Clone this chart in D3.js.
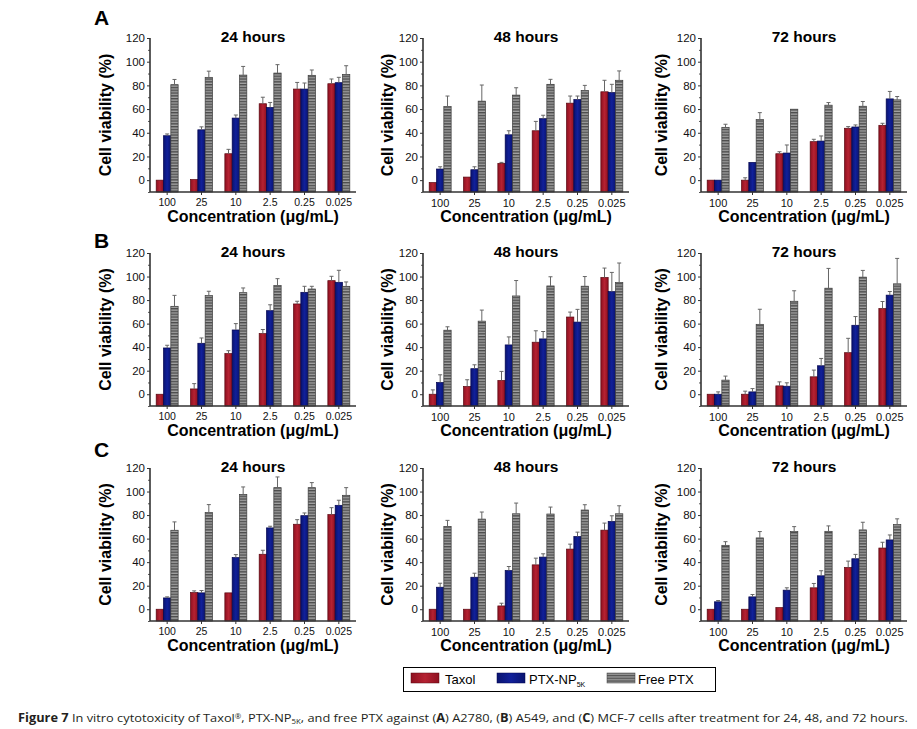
<!DOCTYPE html>
<html><head><meta charset="utf-8">
<script src="https://cdn.jsdelivr.net/npm/d3@7"></script>
<style>
html,body{margin:0;padding:0;background:#fff;}
svg{display:block;font-family:"Liberation Sans",Arial,sans-serif;}
</style></head>
<body>
<svg id="chart" width="917" height="729"></svg>
<script>
// ---------- data ----------
const categories = ["100","25","10","2.5","0.25","0.025"];
const seriesNames = ["Taxol","PTX-NP","Free PTX"];
const hours = ["24 hours","48 hours","72 hours"];
const rowLetters = ["A","B","C"];
const yTicks = [0,20,40,60,80,100,120];

// Row A (A2780)
const A24_taxol = [0, 0.5, 22.3, 64.5, 76.9, 81.4];
const A24_taxol_sd = [0, 0, 3.7, 5.5, 5.6, 4.0];
const A24_ptx = [37.5, 42.5, 52.4, 61.4, 76.9, 82.3];
const A24_ptx_sd = [1.5, 2.5, 2.6, 4.2, 5.1, 4.5];
const A24_free = [80.6, 86.8, 88.7, 90.4, 88.5, 89.3];
const A24_free_sd = [4.4, 5.2, 7.3, 7.1, 4.5, 7.3];

const A48_taxol = [-2, 2.6, 14.2, 41.7, 65, 74.6];
const A48_taxol_sd = [0, 0, 0.8, 7.9, 6, 9.7];
const A48_ptx = [9.4, 8.8, 38.3, 51.9, 68, 74];
const A48_ptx_sd = [1.9, 2.5, 3.4, 2.9, 3, 6.9];
const A48_free = [62.1, 66.7, 71.8, 80.9, 75.7, 84.3];
const A48_free_sd = [8.9, 13.6, 6.2, 4.2, 4.3, 7.9];

const A72_taxol = [0, 0, 22.3, 32.5, 43.8, 46.3];
const A72_taxol_sd = [0, 2, 1.7, 2, 1.4, 1.7];
const A72_ptx = [0, 15, 22.9, 33, 44.9, 68.6];
const A72_ptx_sd = [0, 0, 6.8, 4.3, 1.7, 6.3];
const A72_free = [44.6, 51.1, 59.9, 63.3, 62.4, 67.8];
const A72_free_sd = [2.6, 5.9, 0.3, 2.2, 4, 2.8];

// Row B (A549)
const B24_taxol = [0, 4.5, 34.5, 51.5, 76.7, 96.5];
const B24_taxol_sd = [0, 4.5, 2.5, 3.5, 2.3, 3.7];
const B24_ptx = [39.3, 43.3, 54.6, 71, 86.6, 95.1];
const B24_ptx_sd = [2.3, 4.5, 5.4, 5, 5.1, 10.2];
const B24_free = [74.7, 83.8, 86.3, 92.3, 89.4, 91.7];
const B24_free_sd = [9.3, 3.7, 4, 5.9, 2.3, 3.7];

const B48_taxol = [0, 6.6, 11.7, 44.2, 65.6, 99.2];
const B48_taxol_sd = [3.7, 5.7, 7.7, 9.7, 4.2, 8];
const B48_ptx = [10, 21.7, 41.9, 47, 61.3, 87.2];
const B48_ptx_sd = [6.5, 3.3, 6.8, 6.3, 10.8, 16.3];
const B48_free = [54.4, 62.1, 83.5, 92, 91.8, 94.9];
const B48_free_sd = [2.9, 9.4, 13.1, 7.8, 8.2, 16.6];

const B72_taxol = [0, 0, 7.1, 14.8, 35.3, 72.8];
const B72_taxol_sd = [0, 2.6, 3.4, 5.7, 12.2, 6];
const B72_ptx = [0, 2, 6.8, 24.2, 58.6, 84.2];
const B72_ptx_sd = [2, 2.8, 2.9, 6.2, 7.4, 3.1];
const B72_free = [12, 59.4, 79, 90.1, 99.5, 93.8];
const B72_free_sd = [3.4, 12.8, 8.9, 16.8, 5.7, 21.6];

// Row C (MCF-7)
const C24_taxol = [0, 14.2, 13.9, 46.7, 72.2, 80.4];
const C24_taxol_sd = [0, 1.4, 0, 3.4, 3.9, 5.9];
const C24_ptx = [9.6, 13.9, 43.9, 69.1, 79.5, 88.3];
const C24_ptx_sd = [0.9, 2, 2.5, 1.4, 2.3, 4.3];
const C24_free = [67.1, 82.1, 97.6, 103.3, 103.3, 96.8];
const C24_free_sd = [7.1, 6.8, 6.3, 9.1, 4.3, 6.5];

const C48_taxol = [0, 0, 2.8, 37.7, 51.1, 67.2];
const C48_taxol_sd = [0, 0, 2.3, 5.7, 4.2, 6];
const C48_ptx = [18.7, 27.2, 32.9, 44.3, 61.8, 74.6];
const C48_ptx_sd = [3.4, 3.4, 3.4, 2.8, 3.7, 4.8];
const C48_free = [70.4, 76.6, 81.1, 80.9, 84.3, 81.1];
const C48_free_sd = [5.1, 6, 9.1, 5.9, 4.5, 6.8];

const C72_taxol = [0, 0, 1.4, 18.2, 35.5, 52];
const C72_taxol_sd = [0, 0, 0, 3.7, 5.4, 4.9];
const C72_ptx = [6.3, 10.5, 16.2, 28.4, 42.9, 58.9];
const C72_ptx_sd = [1.1, 2, 2, 4.3, 3.7, 4.2];
const C72_free = [54.3, 60.6, 66, 66.2, 67.4, 71.9];
const C72_free_sd = [3.1, 5.4, 4.2, 4.6, 6.5, 4.9];

const panelData = [
  [[A24_taxol,A24_ptx,A24_free],[A24_taxol_sd,A24_ptx_sd,A24_free_sd]],
  [[A48_taxol,A48_ptx,A48_free],[A48_taxol_sd,A48_ptx_sd,A48_free_sd]],
  [[A72_taxol,A72_ptx,A72_free],[A72_taxol_sd,A72_ptx_sd,A72_free_sd]],
  [[B24_taxol,B24_ptx,B24_free],[B24_taxol_sd,B24_ptx_sd,B24_free_sd]],
  [[B48_taxol,B48_ptx,B48_free],[B48_taxol_sd,B48_ptx_sd,B48_free_sd]],
  [[B72_taxol,B72_ptx,B72_free],[B72_taxol_sd,B72_ptx_sd,B72_free_sd]],
  [[C24_taxol,C24_ptx,C24_free],[C24_taxol_sd,C24_ptx_sd,C24_free_sd]],
  [[C48_taxol,C48_ptx,C48_free],[C48_taxol_sd,C48_ptx_sd,C48_free_sd]],
  [[C72_taxol,C72_ptx,C72_free],[C72_taxol_sd,C72_ptx_sd,C72_free_sd]]
];

// ---------- layout ----------
const colX = [150, 423, 701];
const panelW = 206;
const rowY = [[192, 38], [406, 253], [621, 468]];   // [y(-10), y(120)]
const yLabelX = [105.5, 387.5, 661];
const letterY = [25, 248, 457];

const svg = d3.select("#chart");
const defs = svg.append("defs");

const gR = defs.append("linearGradient").attr("id","gRed").attr("x1","0").attr("x2","1");
gR.append("stop").attr("offset","0").attr("stop-color","#8e1020");
gR.append("stop").attr("offset","0.5").attr("stop-color","#b52232");
gR.append("stop").attr("offset","1").attr("stop-color","#8e1020");
const gB = defs.append("linearGradient").attr("id","gBlue").attr("x1","0").attr("x2","1");
gB.append("stop").attr("offset","0").attr("stop-color","#0a1470");
gB.append("stop").attr("offset","0.5").attr("stop-color","#11209a");
gB.append("stop").attr("offset","1").attr("stop-color","#0a1470");
const pat = defs.append("pattern").attr("id","pGray").attr("patternUnits","userSpaceOnUse")
  .attr("width",4).attr("height",2.8);
pat.append("rect").attr("width",4).attr("height",2.8).attr("fill","#a2a2a2");
pat.append("rect").attr("width",4).attr("height",1.4).attr("fill","#4c4c4c");

const fills = ["url(#gRed)","url(#gBlue)","url(#pGray)"];
const strokes = ["#5a0810","#020450","#3c3c3c"];

panelData.forEach((pd, i) => {
  const r = Math.floor(i/3), c = i%3;
  const x0 = colX[c];
  const x = d3.scaleBand().domain(categories).range([x0, x0+panelW]).paddingInner(0.36).paddingOuter(0.18);
  const xs = d3.scaleBand().domain(d3.range(3)).range([0, x.bandwidth()]);
  const y = d3.scaleLinear().domain([-10,120]).range(rowY[r]);
  const g = svg.append("g");

  pd[0].forEach((vals, s) => {
    g.selectAll(null).data(vals).enter().append("rect")
      .attr("x",(d,k)=>x(categories[k])+xs(s))
      .attr("width",xs.bandwidth())
      .attr("y",d=>y(d))
      .attr("height",d=>y(-10)-y(d))
      .attr("fill",fills[s])
      .attr("stroke",strokes[s]).attr("stroke-width",0.7);
  });
  pd[0].forEach((vals, s) => {
    const sd = pd[1][s];
    vals.forEach((v,k) => {
      if (sd[k] <= 0.4) return;
      const cx = x(categories[k]) + xs(s) + xs.bandwidth()/2;
      g.append("line").attr("x1",cx).attr("x2",cx).attr("y1",y(v)).attr("y2",y(v+sd[k]))
        .attr("stroke","#666").attr("stroke-width",1);
      g.append("line").attr("x1",cx-2).attr("x2",cx+2).attr("y1",y(v+sd[k])).attr("y2",y(v+sd[k]))
        .attr("stroke","#666").attr("stroke-width",1);
    });
  });

  const ya = g.append("g").attr("transform",`translate(${x0},0)`)
    .call(d3.axisLeft(y).tickValues(yTicks).tickSize(3).tickPadding(2));
  ya.select(".domain").remove();
  ya.selectAll(".tick line").attr("stroke","#333");
  ya.selectAll(".tick text").attr("font-size","11.5px").attr("fill","#111")
    .attr("font-family","Liberation Sans, Arial, sans-serif");
  const ym = g.append("g").attr("transform",`translate(${x0},0)`)
    .call(d3.axisLeft(y).tickValues([-10,10,30,50,70,90,110]).tickSize(2).tickFormat(""));
  ym.select(".domain").remove();
  ym.selectAll(".tick line").attr("stroke","#555");
  g.append("line").attr("x1",x0).attr("x2",x0).attr("y1",y(120)).attr("y2",y(-10))
    .attr("stroke","#333").attr("stroke-width",1.6);

  const xa = g.append("g").attr("transform",`translate(0,${y(-10)})`)
    .call(d3.axisBottom(x).tickSize(3).tickPadding(4));
  xa.select(".domain").remove();
  xa.selectAll(".tick line").attr("stroke","#333");
  xa.selectAll(".tick text").attr("font-size", c===0 ? "10.5px" : "11px").attr("fill","#111")
    .attr("font-family","Liberation Sans, Arial, sans-serif");
  g.append("line").attr("x1",x0).attr("x2",x0+panelW).attr("y1",y(-10)).attr("y2",y(-10))
    .attr("stroke","#333").attr("stroke-width",1.6);

  g.append("text").attr("x",x0+panelW/2).attr("y",y(120)+4).attr("text-anchor","middle")
    .attr("font-size","15.5px").attr("font-weight","bold").attr("fill","#000").text(hours[c]);
  g.append("text").attr("x",x0+panelW/2).attr("y",y(-10)+29.5).attr("text-anchor","middle")
    .attr("font-size","16px").attr("font-weight","bold").attr("fill","#000").text("Concentration (\u03bcg/mL)");
  const ym2 = (y(120)+y(-10))/2;
  g.append("text").attr("transform",`translate(${yLabelX[c]+5.5},${ym2}) rotate(-90)`)
    .attr("text-anchor","middle").attr("font-size","16px").attr("font-weight","bold").attr("fill","#000")
    .text("Cell viability (%)");
  if (c===0) {
    svg.append("text").attr("x",94).attr("y",letterY[r]).attr("font-size","21px")
      .attr("font-weight","bold").attr("fill","#000").text(rowLetters[r]);
  }
});

// legend
const lg = svg.append("g");
lg.append("rect").attr("x",403.5).attr("y",667.5).attr("width",312).attr("height",24)
  .attr("fill","#fff").attr("stroke","#000").attr("stroke-width",1);
const legX = [411, 497, 607];
const legTX = [445, 529, 638];
seriesNames.forEach((n,s) => {
  lg.append("rect").attr("x",legX[s]).attr("y",673).attr("width",28).attr("height",10)
    .attr("fill",fills[s]).attr("stroke",strokes[s]).attr("stroke-width",0.5);
  const t = lg.append("text").attr("x",legTX[s]).attr("y",684).attr("font-size","13px").attr("fill","#000");
  t.append("tspan").text(n);
  if (s===1) t.append("tspan").attr("font-size","7px").attr("dy",3).text("5K");
});

// caption
const cap = svg.append("text").attr("x",18).attr("y",722).attr("font-size","11.5px")
  .attr("font-family","'Liberation Sans Narrow','Open Sans',sans-serif").attr("fill","#231f20")
  .attr("textLength",890).attr("lengthAdjust","spacingAndGlyphs");
const parts = [
  ["Figure 7", true, 0, null],
  [" In vitro cytotoxicity of Taxol", false, 0, null],
  ["\u00ae", false, -3, "7px"],
  [", PTX-NP", false, 3, null],
  ["5K", false, 2, "7px"],
  [", and free PTX against (", false, -2, null],
  ["A", true, 0, null],
  [") A2780, (", false, 0, null],
  ["B", true, 0, null],
  [") A549, and (", false, 0, null],
  ["C", true, 0, null],
  [") MCF-7 cells after treatment for 24, 48, and 72 hours.", false, 0, null]
];
parts.forEach(p => {
  const ts = cap.append("tspan").text(p[0]);
  if (p[1]) ts.attr("font-weight","bold");
  if (p[2]) ts.attr("dy",p[2]);
  if (p[3]) ts.attr("font-size",p[3]);
});
</script>
</body></html>
